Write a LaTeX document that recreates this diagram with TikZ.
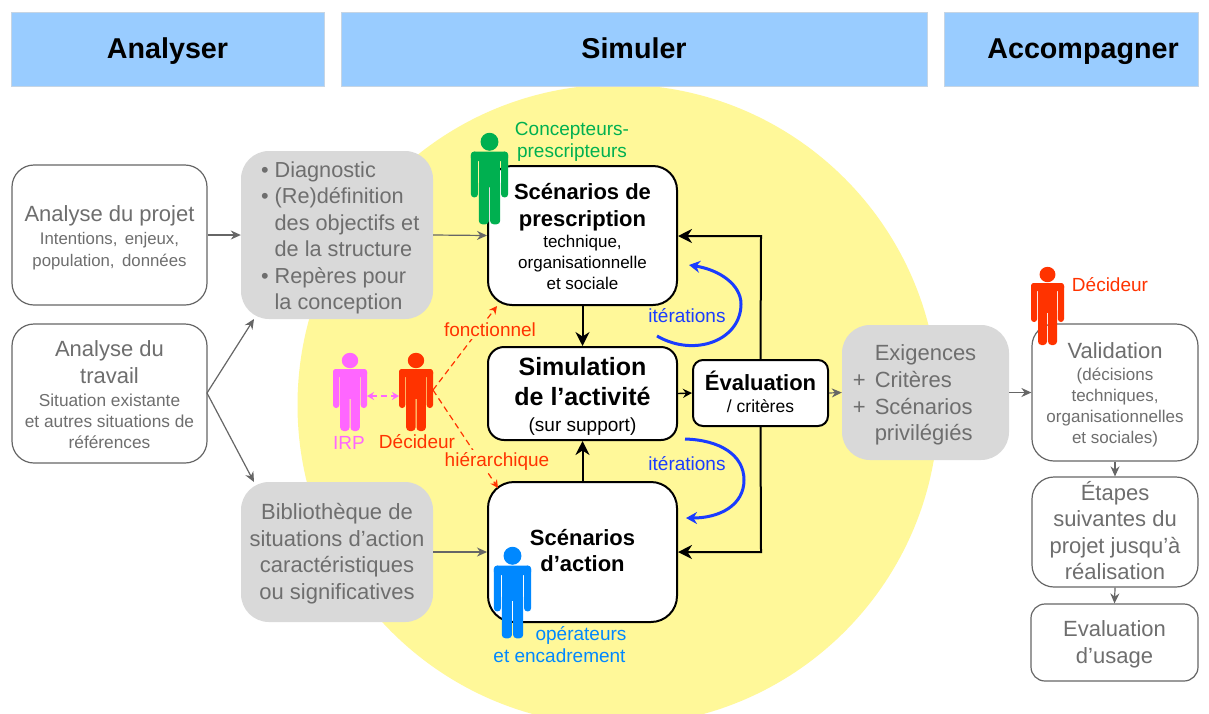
\documentclass[tikz,border=0pt]{standalone}
\usepackage{fontspec}
\setmainfont{Liberation Sans}
\usetikzlibrary{arrows.meta}
\definecolor{hdr}{HTML}{99CCFF}
\definecolor{sun}{HTML}{FFF899}
\definecolor{lgray}{HTML}{D9D9D9}
\definecolor{tgray}{HTML}{6E6E6E}
\definecolor{lgrayline}{HTML}{666666}
\definecolor{redd}{HTML}{FF3300}
\definecolor{greenn}{HTML}{00B050}
\definecolor{bluep}{HTML}{0088FF}
\definecolor{bluei}{HTML}{1A3CFF}
\definecolor{pinkk}{HTML}{FF66FF}
\newcommand{\fsz}[2]{\fontsize{#1}{#2}\selectfont}
\newcommand{\stk}[2]{\raisebox{\dimexpr#1-2.5pt\relax}[0pt][0pt]{\renewcommand{\arraystretch}{0}\begin{tabular}{@{}c@{}}#2\end{tabular}}}
\newcommand{\stkl}[2]{\raisebox{\dimexpr#1-2.5pt\relax}[0pt][0pt]{\renewcommand{\arraystretch}{0}\begin{tabular}{@{}l@{}}#2\end{tabular}}}
\newcommand{\tl}[3]{\fsz{#1}{#2}\strut #3}
\newcommand{\tb}[3]{\fsz{#1}{#2}\bfseries\strut #3}
\newcommand{\gl}[1]{\tl{22}{26.6}{#1}}
\newcommand{\dl}[1]{\tl{21.7}{26.5}{#1}}
\tikzset{
  x=1pt,y=-1pt,
  headbox/.style={draw=lgray!70!hdr,fill=hdr,inner sep=0pt,font=\fsz{28.7}{32}\bfseries,text=black,line width=.6pt,text height=18pt,text depth=0pt},
  whitebox/.style={draw=lgrayline,fill=white,line width=1.2pt,rounded corners=22pt,inner sep=0pt,align=center,text=tgray},
  graybox/.style={fill=lgray,rounded corners=28pt,inner sep=0pt,align=center,text=tgray},
  blackbox/.style={draw=black,fill=white,line width=2pt,rounded corners=24pt,inner sep=0pt,align=center,text=black},
  grayarrow/.style={draw=lgrayline,line width=1.2pt,-{Stealth[length=10pt,width=9pt]}},
  blackarrow/.style={draw=black,line width=2pt,-{Stealth[length=14pt,width=14pt]}},
  smallblack/.style={draw=black,line width=1.4pt,-{Stealth[length=9pt,width=9pt]}},
  iterarrow/.style={draw=bluei,line width=3pt,-{Stealth[length=11pt,width=12pt]}},
  dasharrow/.style={draw=redd,line width=1.2pt,dash pattern=on 6pt off 4pt,-{Stealth[length=8pt,width=8pt]}},
  lab/.style={inner sep=0pt,align=center},
  personfig/.pic={
    \fill[#1] (0,7.5) ellipse [x radius=8.2,y radius=7.7];
    \fill[#1,rounded corners=3pt] (-17,16) rectangle (-10.7,55);
    \fill[#1,rounded corners=3pt] (10.7,16) rectangle (17,55);
    \fill[#1,rounded corners=3pt] (-17,16) rectangle (17,24);
    \fill[#1] (-10,18) rectangle (10,46);
    \fill[#1,rounded corners=3.5pt] (-9.8,40) rectangle (-0.5,78);
    \fill[#1,rounded corners=3.5pt] (0.5,40) rectangle (9.8,78);
  }
}
\begin{document}
\begin{tikzpicture}
\useasboundingbox (0,0) rectangle (1209,713);
\fill[white] (0,0) rectangle (1209,713);
\begin{scope}
  \clip (0,0) rectangle (1209,713);
  \fill[sun] (618,405) circle [radius=320.5];
\end{scope}

% headers
\node[headbox,minimum width=313pt,minimum height=74pt] (h1) at (167.5,49) {Analyser};
\node[headbox,minimum width=586pt,minimum height=74pt] (h2) at (634,49) {Simuler};
\node[headbox,minimum width=254pt,minimum height=74pt] (h3) at (1071,49) {\hspace*{24pt}Accompagner};

% left column
\node[whitebox,minimum width=195pt,minimum height=140pt] (projet) at (109.5,235)
  {\stk{-3.5pt}{\tl{22}{26}{Analyse du projet}\\ \tl{16.8}{22}{Intentions,\, enjeux,}\\ \tl{16.8}{22}{population,\, données}}};
\node[whitebox,minimum width=195pt,minimum height=139pt] (travail) at (109.5,393.5)
  {\stk{-2.5pt}{\tl{22}{27}{Analyse du}\\ \tl{22}{27}{travail}\\ \tl{17.3}{21}{Situation existante}\\ \tl{17.3}{21}{et autres situations de}\\ \tl{17.3}{21}{références}}};

% gray column
\node[graybox,minimum width=192pt,minimum height=168pt] (diag) at (337,235)
  {\hspace*{20pt}\stkl{-3pt}{\dl{\llap{•\hspace{6pt}}Diagnostic}\\
   \dl{\llap{•\hspace{6pt}}(Re)définition}\\
   \dl{des objectifs et}\\
   \dl{de la structure}\\
   \dl{\llap{•\hspace{6pt}}Repères pour}\\
   \dl{la conception}}};
\node[graybox,minimum width=192pt,minimum height=140pt] (biblio) at (337,552)
  {\stk{-2pt}{\gl{Bibliothèque de}\\ \gl{situations d’action}\\ \gl{caractéristiques}\\ \gl{ou significatives}}};

% central boxes
\node[blackbox,minimum width=189pt,minimum height=139pt] (presc) at (582.5,235.5)
  {\stk{-3pt}{\tb{22}{27}{Scénarios de}\\ \tb{22}{27}{prescription}\\[-2pt] \tl{17}{21}{technique,}\\ \tl{17}{21}{organisationnelle}\\ \tl{17}{21}{et sociale}}};
\node[blackbox,minimum width=189pt,minimum height=93pt,rounded corners=16pt] (simu) at (582.5,393.5)
  {\stk{-3pt}{\tb{25}{30}{Simulation}\\ \tb{25}{30}{de l’activité}\\ \tl{19}{24}{(sur support)}}};
\node[blackbox,minimum width=135pt,minimum height=66pt,rounded corners=10pt] (eval) at (760.5,393)
  {\stk{-2pt}{\tb{22}{26}{Évaluation}\\ \tl{17.5}{20}{/ critères}}};
\node[blackbox,minimum width=189pt,minimum height=140pt,rounded corners=26pt] (action) at (582.5,552)
  {\stk{-1pt}{\tb{22}{26.5}{Scénarios}\\ \tb{22}{26.5}{d’action}}};

% right
\node[graybox,minimum width=167pt,minimum height=135pt] (exig) at (925.5,392.5)
  {\stkl{-3pt}{\gl{Exigences}\\
   \gl{\llap{+\hspace{9pt}}Critères}\\
   \gl{\llap{+\hspace{9pt}}Scénarios}\\
   \gl{privilégiés}}};
\node[whitebox,minimum width=166pt,minimum height=137pt] (valid) at (1115,392.5)
  {\stk{-2.5pt}{\tl{22}{26}{Validation}\\ \tl{17}{21}{(décisions}\\ \tl{17}{21}{techniques,}\\ \tl{17}{21}{organisationnelles}\\ \tl{17}{21}{et sociales)}}};
\node[whitebox,minimum width=166pt,minimum height=110pt] (etapes) at (1115,532)
  {\stk{-2.5pt}{\tl{22}{26.5}{Étapes}\\ \tl{22}{26.5}{suivantes du}\\ \tl{22}{26.5}{projet jusqu’à}\\ \tl{22}{26.5}{réalisation}}};
\node[whitebox,minimum width=167pt,minimum height=77pt,rounded corners=14pt] (usage) at (1114.5,642.5)
  {\stk{-2.5pt}{\tl{22}{27}{Evaluation}\\ \tl{22}{27}{d’usage}}};

% gray connectors
\coordinate (tA) at (207,393);
\coordinate (dB) at (254,319);
\coordinate (bT) at (254,482);
\draw[grayarrow] (projet.east) -- (diag.west);
\draw[grayarrow] (tA) -- (dB);
\draw[grayarrow] (tA) -- (bT);
\draw[grayarrow] (diag.east) -- (presc.west);
\draw[grayarrow] (biblio.east) -- (action.west);
\draw[smallblack] (simu.east) -- (eval.west);
\draw[grayarrow] (eval.east) -- (exig.west);
\draw[grayarrow] (exig.east) -- (valid.west);
\draw[grayarrow] (valid.south) -- (etapes.north);
\draw[grayarrow] (etapes.south) -- (usage.north);

% black connectors
\draw[blackarrow] (presc.south) -- (simu.north);
\draw[blackarrow] (action.north) -- (simu.south);
\draw[blackarrow] (eval.north) -- (761,236) -- (presc.east |- 0,236);
\draw[blackarrow] (eval.south) -- (761,552) -- (action.east);

% iterations
\coordinate (i1s) at (657,336);
\coordinate (i1e) at (689,265);
\coordinate (i2s) at (685,439);
\coordinate (i2e) at (686,518);
\draw[iterarrow] (i1s) .. controls (695,358) and (741,340) .. (741,304) .. controls (741,285) and (720,270) .. (i1e);
\draw[iterarrow] (i2s) .. controls (720,440) and (744,455) .. (744,480) .. controls (744,505) and (720,518) .. (i2e);
\node[lab,text=bluei,font=\fsz{19}{22}] (it1) at (687,316) {itérations};
\node[lab,text=bluei,font=\fsz{19}{22}] (it2) at (687,464) {itérations};

% decision lines
\coordinate (dR) at (433,390);
\coordinate (fT) at (497,306);
\coordinate (hT) at (498,488);
\draw[dasharrow] (dR) -- (fT);
\draw[dasharrow] (dR) -- (hT);
\node[lab,fill=sun,inner xsep=1pt,inner ysep=2pt,text=redd,font=\fsz{19}{22}] (fonc) at (490,330) {fonctionnel};
\node[lab,fill=sun,inner xsep=1pt,inner ysep=2pt,text=redd,font=\fsz{19}{22}] (hier) at (497,461) {hiérarchique};

% persons
\pic[xscale=1.0,yscale=1.0] at (350,353) {personfig={pinkk}};
\pic[xscale=1.0,yscale=1.0] at (416,353) {personfig={redd}};
\pic[xscale=1.09,yscale=1.17] at (489.5,133) {personfig={greenn}};
\pic[xscale=1.09,yscale=1.17] at (512.5,547) {personfig={bluep}};
\pic[xscale=0.97,yscale=1.0] at (1047.5,267) {personfig={redd}};
\coordinate (pA) at (367,396);
\coordinate (pB) at (399,396);
\draw[draw=pinkk,line width=1.2pt,dash pattern=on 6pt off 4pt,{Stealth[length=7pt,width=8pt]}-{Stealth[length=7pt,width=8pt]}] (pA) -- (pB);

% labels
\node[lab,text=pinkk,font=\fsz{19}{22}] (irp) at (349,443) {IRP};
\node[lab,text=redd,font=\fsz{19}{22}] (dec1) at (417,442) {Décideur};
\node[lab,text=redd,font=\fsz{19}{22}] (dec2) at (1110,285) {Décideur};
\node[lab,text=greenn,font=\fsz{19}{22}] (conc) at (572,142) {Concepteurs-\\prescripteurs};
\node[lab,text=bluep,font=\fsz{19}{22}] (oper) at (559.5,645) {\hspace*{43pt}opérateurs\\et encadrement};
\end{tikzpicture}
\end{document}
